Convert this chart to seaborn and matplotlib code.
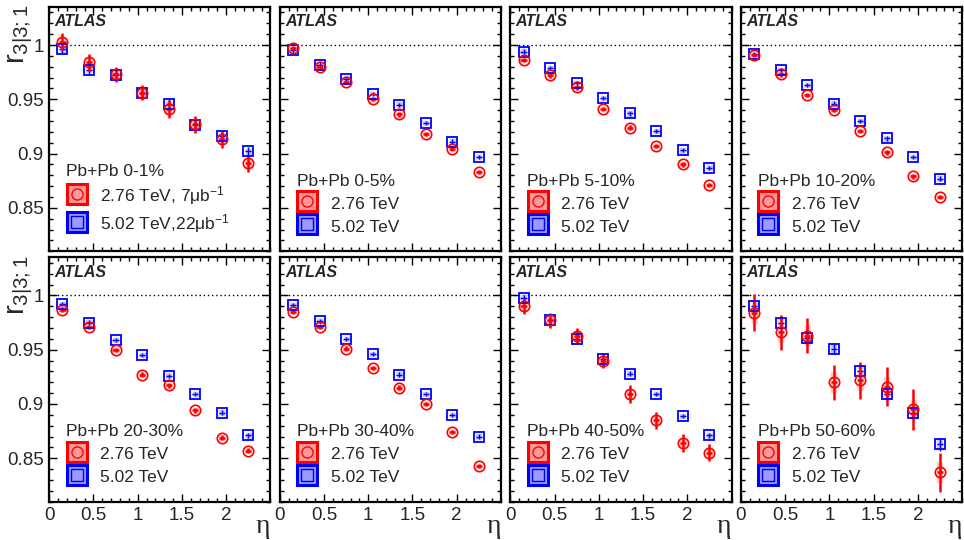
import numpy as np
import pandas as pd
import matplotlib
matplotlib.use("Agg")
import matplotlib.pyplot as plt
from matplotlib.lines import Line2D
from matplotlib.legend_handler import HandlerTuple
from matplotlib.ticker import MultipleLocator, FormatStrFormatter
import seaborn as sns

# data
eta = [0.15, 0.45, 0.75, 1.05, 1.35, 1.65, 1.95, 2.25]
centrality = ["0-1%", "0-5%", "5-10%", "10-20%", "20-30%", "30-40%", "40-50%", "50-60%"]
xtick_vals = [0, 0.5, 1, 1.5, 2]

# r_3|3;1 at 2.76 TeV, one list per centrality bin
r276_0_1 = [1.003, 0.984, 0.973, 0.956, 0.941, 0.927, 0.913, 0.891]
r276_0_5 = [0.997, 0.980, 0.966, 0.950, 0.936, 0.918, 0.904, 0.883]
r276_5_10 = [0.986, 0.972, 0.961, 0.941, 0.924, 0.907, 0.890, 0.871]
r276_10_20 = [0.991, 0.973, 0.954, 0.940, 0.921, 0.901, 0.879, 0.860]
r276_20_30 = [0.987, 0.971, 0.950, 0.927, 0.917, 0.894, 0.869, 0.857]
r276_30_40 = [0.985, 0.971, 0.951, 0.933, 0.915, 0.900, 0.874, 0.843]
r276_40_50 = [0.990, 0.977, 0.963, 0.940, 0.909, 0.885, 0.864, 0.855]
r276_50_60 = [0.984, 0.966, 0.963, 0.920, 0.922, 0.916, 0.895, 0.837]

# r_3|3;1 at 5.02 TeV
r502_0_1 = [0.996, 0.977, 0.972, 0.956, 0.946, 0.926, 0.916, 0.902]
r502_0_5 = [0.995, 0.982, 0.969, 0.955, 0.945, 0.928, 0.911, 0.897]
r502_5_10 = [0.994, 0.979, 0.965, 0.951, 0.937, 0.921, 0.903, 0.887]
r502_10_20 = [0.992, 0.977, 0.963, 0.946, 0.930, 0.914, 0.897, 0.877]
r502_20_30 = [0.992, 0.975, 0.959, 0.945, 0.926, 0.909, 0.892, 0.871]
r502_30_40 = [0.991, 0.976, 0.960, 0.946, 0.927, 0.909, 0.890, 0.870]
r502_40_50 = [0.998, 0.977, 0.960, 0.941, 0.928, 0.909, 0.889, 0.871]
r502_50_60 = [0.990, 0.975, 0.961, 0.951, 0.930, 0.909, 0.892, 0.863]

# statistical errors
e276_0_1 = [0.008, 0.008, 0.007, 0.007, 0.008, 0.008, 0.008, 0.008]
e276_mid = [0.002, 0.002, 0.002, 0.002, 0.002, 0.002, 0.002, 0.002]
e276_40_50 = [0.007, 0.007, 0.007, 0.007, 0.008, 0.008, 0.008, 0.008]
e276_50_60 = [0.017, 0.016, 0.016, 0.016, 0.017, 0.018, 0.019, 0.018]
e502_0_1 = [0.004, 0.004, 0.004, 0.004, 0.004, 0.004, 0.004, 0.004]
e502_mid = [0.002, 0.002, 0.002, 0.002, 0.002, 0.002, 0.002, 0.002]
e502_50_60 = [0.005, 0.005, 0.005, 0.005, 0.005, 0.005, 0.005, 0.006]

# systematic uncertainty (per panel, approx)
sys276 = [0.005, 0.003, 0.003, 0.003, 0.003, 0.003, 0.004, 0.010]
sys502 = [0.003, 0.003, 0.003, 0.003, 0.003, 0.003, 0.003, 0.005]

r276 = [r276_0_1, r276_0_5, r276_5_10, r276_10_20, r276_20_30, r276_30_40, r276_40_50, r276_50_60]
r502 = [r502_0_1, r502_0_5, r502_5_10, r502_10_20, r502_20_30, r502_30_40, r502_40_50, r502_50_60]
e276 = [e276_0_1, e276_mid, e276_mid, e276_mid, e276_mid, e276_mid, e276_40_50, e276_50_60]
e502 = [e502_0_1, e502_mid, e502_mid, e502_mid, e502_mid, e502_mid, e502_mid, e502_50_60]

sns.set_style("ticks")
plt.rcParams["font.family"] = ["Liberation Sans", "DejaVu Sans"]
plt.rcParams["mathtext.default"] = "regular"

RED = "#ff0000"
BLUE = "#0000ff"
PINK = "#ff9a9a"
LBLUE = "#9a9aff"

fig, axes = plt.subplots(2, 4, figsize=(9.64, 5.4), dpi=100, sharex=True, sharey=True)
fig.subplots_adjust(left=0.051, right=0.998, top=0.987, bottom=0.071, wspace=0.042, hspace=0.025)

for i, ax in enumerate(axes.flat):
    df = pd.DataFrame({"eta": eta, "r276": r276[i], "r502": r502[i],
                       "e276": e276[i], "e502": e502[i]})

    # systematic boxes
    ax.bar(df["eta"], 2 * sys502[i], bottom=df["r502"] - sys502[i], width=0.08,
           color=LBLUE, alpha=0.6, zorder=1)
    ax.bar(df["eta"], 2 * sys276[i], bottom=df["r276"] - sys276[i], width=0.08,
           color=PINK, alpha=0.6, zorder=1)

    ax.errorbar(df["eta"], df["r502"], yerr=df["e502"], xerr=0.035, fmt="none",
                ecolor=BLUE, elinewidth=1.0, zorder=2)
    ax.errorbar(df["eta"], df["r276"], yerr=df["e276"], xerr=0.035, fmt="none",
                ecolor=RED, elinewidth=1.8, zorder=3)

    sns.lineplot(data=df, x="eta", y="r502", ax=ax, linestyle="", marker="s",
                 markersize=7.5, markerfacecolor="none", markeredgecolor=BLUE,
                 markeredgewidth=1.3, color=BLUE, zorder=4)
    sns.lineplot(data=df, x="eta", y="r276", ax=ax, linestyle="", marker="o",
                 markersize=7.5, markerfacecolor="none", markeredgecolor=RED,
                 markeredgewidth=1.2, color=RED, zorder=5)

    ax.axhline(1.0, color="black", linestyle=(0, (1, 2)), linewidth=1.0, zorder=0)

    ax.set_xlim(0, 2.5)
    ax.set_ylim(0.81, 1.035)
    ax.set_xticks(xtick_vals)
    ax.xaxis.set_minor_locator(MultipleLocator(0.1))
    ax.yaxis.set_major_locator(MultipleLocator(0.05))
    ax.yaxis.set_minor_locator(MultipleLocator(0.01))
    ax.xaxis.set_major_formatter(FormatStrFormatter("%g"))
    ax.yaxis.set_major_formatter(FormatStrFormatter("%g"))
    ax.tick_params(which="both", direction="in", top=True, right=True,
                   labelsize=13.5, color="black", width=1.0)
    ax.tick_params(which="major", length=6, pad=4)
    ax.tick_params(which="minor", length=3)
    for s in ax.spines.values():
        s.set_linewidth(1.6)
        s.set_color("black")
    ax.set_xlabel("")
    ax.set_ylabel("")

    ax.text(0.025, 0.94, "ATLAS", transform=ax.transAxes, fontsize=11.5,
            fontweight="bold", fontstyle="italic", va="center", ha="left")

    if i == 0:
        lab1 = "2.76 TeV, 7μb$^{-1}$"
        lab2 = "5.02 TeV,22μb$^{-1}$"
    else:
        lab1 = "2.76 TeV"
        lab2 = "5.02 TeV"
    h1 = (Line2D([], [], linestyle="", marker="s", markersize=15, markerfacecolor=PINK,
                 markeredgecolor=RED, markeredgewidth=2.2),
          Line2D([], [], linestyle="", marker="o", markersize=8, markerfacecolor="none",
                 markeredgecolor=RED, markeredgewidth=1.0))
    h2 = (Line2D([], [], linestyle="", marker="s", markersize=15, markerfacecolor=LBLUE,
                 markeredgecolor=BLUE, markeredgewidth=2.2),
          Line2D([], [], linestyle="", marker="s", markersize=8, markerfacecolor="none",
                 markeredgecolor=BLUE, markeredgewidth=1.0))
    leg = ax.legend([h1, h2], [lab1, lab2], handler_map={tuple: HandlerTuple(ndivide=1)},
                    title="Pb+Pb " + centrality[i], loc="lower left",
                    bbox_to_anchor=(0.03, 0.025), frameon=False, fontsize=12.5,
                    title_fontsize=12.5, alignment="left", handlelength=1.2,
                    handleheight=1.2, handletextpad=0.75, labelspacing=0.3,
                    borderaxespad=0.2)

for ax in axes[:, 0]:
    ax.text(-0.13, 1.01, "r$_{3|3;1}$", transform=ax.transAxes, rotation=90,
            fontsize=21, ha="center", va="top")

for ax in axes[1, :]:
    ax.text(1.0, -0.05, "η", transform=ax.transAxes, fontsize=20,
            family="Liberation Serif", ha="right", va="top")

fig.savefig("out.png", dpi=100)
